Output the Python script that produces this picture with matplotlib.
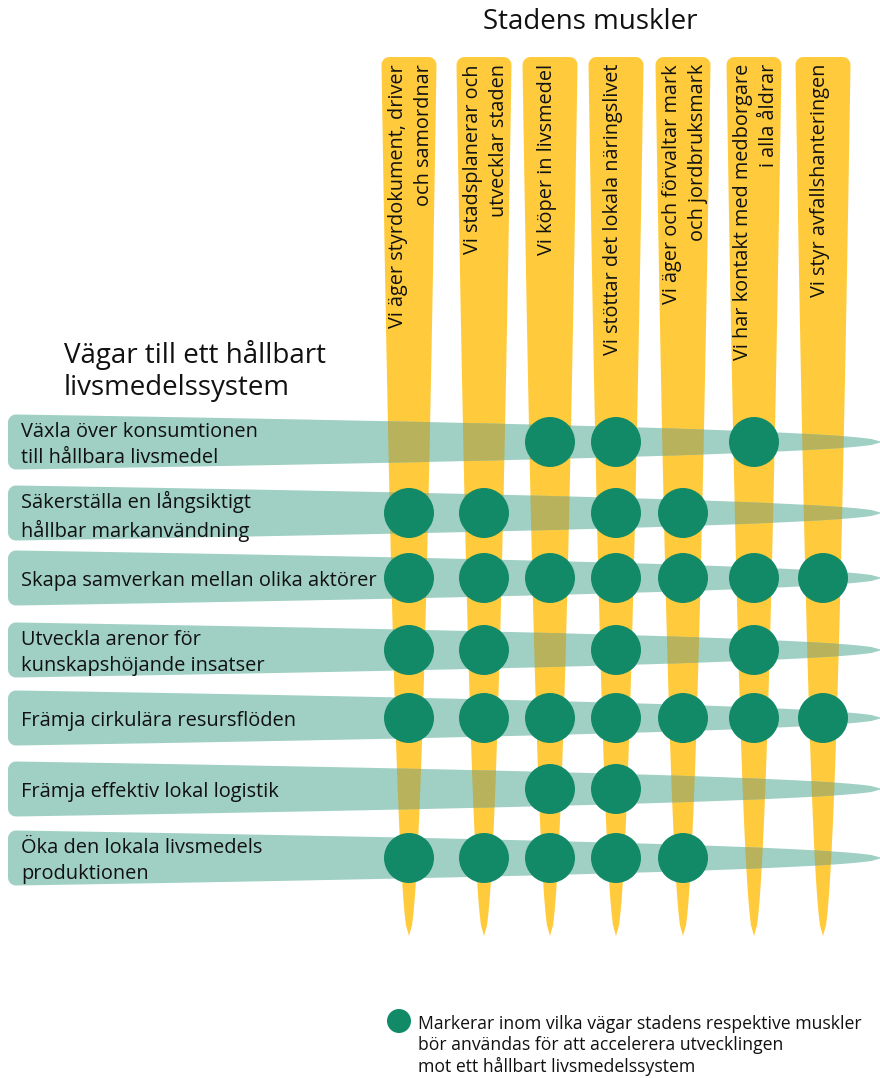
import numpy as np
import matplotlib
matplotlib.use("Agg")
import matplotlib.pyplot as plt
from matplotlib.patches import Polygon, Circle

plt.rcParams['font.family'] = ['Open Sans', 'DejaVu Sans']

# ---------------- data ----------------
title_cols = "Stadens muskler"
title_rows = "Vägar till ett hållbart\nlivsmedelssystem"
muscles = [
    "Vi äger styrdokument, driver\noch samordnar",
    "Vi stadsplanerar och\nutvecklar staden",
    "Vi köper in livsmedel",
    "Vi stöttar det lokala näringslivet",
    "Vi äger och förvaltar mark\noch jordbruksmark",
    "Vi har kontakt med medborgare\ni alla åldrar",
    "Vi styr avfallshanteringen",
]
pathways = [
    "Växla över konsumtionen\ntill hållbara livsmedel",
    "Säkerställa en långsiktigt\nhållbar markanvändning",
    "Skapa samverkan mellan olika aktörer",
    "Utveckla arenor för\nkunskapshöjande insatser",
    "Främja cirkulära resursflöden",
    "Främja effektiv lokal logistik",
    "Öka den lokala livsmedels\nproduktionen",
]
# marks[row][col] : 1 = muscle should be used for this pathway
marks = [
    [0, 0, 1, 1, 0, 1, 0],
    [1, 1, 0, 1, 1, 0, 0],
    [1, 1, 1, 1, 1, 1, 1],
    [1, 1, 0, 1, 0, 1, 0],
    [1, 1, 1, 1, 1, 1, 1],
    [0, 0, 1, 1, 0, 0, 0],
    [1, 1, 1, 1, 1, 0, 0],
]
legend_text = ("Markerar inom vilka vägar stadens respektive muskler\n"
               "bör användas för att accelerera utvecklingen\n"
               "mot ett hållbart livsmedelssystem")

# ---------------- layout / style ----------------
W, H = 880, 1078
col_x = [409, 484, 550, 616, 683, 754, 823]
row_y = [442, 513, 578, 650, 718, 789, 858]
col_top, col_tip, col_w = 57, 936, 55
row_left, row_tip, row_h = 8, 882, 55
YELLOW = '#FFCB3D'
TEAL = '#9FD0C3'
OLIVE = '#B8B25C'
GREEN = '#128A68'
dot_r = 25

fig = plt.figure(figsize=(W / 100, H / 100), dpi=100)
ax = fig.add_axes([0, 0, 1, 1])
ax.set_xlim(0, W)
ax.set_ylim(H, 0)
ax.axis('off')


def taper(n=80, p=0.5):
    t = np.linspace(0, 1, n)
    return t, (1 - t) ** p


def corner(cx, cy, r, a0, a1, n=8):
    a = np.linspace(np.radians(a0), np.radians(a1), n)
    return np.column_stack([cx + r * np.cos(a), cy + r * np.sin(a)])


def col_shape(x):
    hw = col_w / 2
    r = 8
    t, f = taper()
    ys = col_top + r + t * (col_tip - col_top - r)
    right = np.column_stack([x + hw * f, ys])
    left = np.column_stack([x - hw * f, ys])[::-1]
    tl = corner(x - hw + r, col_top + r, r, 180, 270)
    tr = corner(x + hw - r, col_top + r, r, 270, 360)
    return np.vstack([tl, tr, right, left])


def row_shape(y):
    hh = row_h / 2
    r = 8
    t, f = taper()
    xs = row_left + r + t * (row_tip - row_left - r)
    top = np.column_stack([xs, y - hh * f])
    bot = np.column_stack([xs, y + hh * f])[::-1]
    bl = corner(row_left + r, y + hh - r, r, 90, 180)
    tl = corner(row_left + r, y - hh + r, r, 180, 270)
    return np.vstack([tl, top, bot, bl])


for x in col_x:
    ax.add_patch(Polygon(col_shape(x), closed=True, fc=YELLOW, ec='none', zorder=1))

for y in row_y:
    rp = Polygon(row_shape(y), closed=True, fc=TEAL, ec='none', zorder=2)
    ax.add_patch(rp)
    for x in col_x:
        op = Polygon(col_shape(x), closed=True, fc=OLIVE, ec='none', zorder=3)
        ax.add_patch(op)
        op.set_clip_path(rp)

for i, y in enumerate(row_y):
    for j, x in enumerate(col_x):
        if marks[i][j]:
            ax.add_patch(Circle((x, y), dot_r, fc=GREEN, ec='none', zorder=4))

# column labels (rotated)
for j, (x, lab) in enumerate(zip(col_x, muscles)):
    nl = lab.count('\n') + 1
    xx = x - 3 if nl == 1 else x + 2
    ax.text(xx, 64, lab, rotation=90, ha='center', va='top', fontsize=14.3,
            multialignment='right', linespacing=1.4, color='#111111', zorder=5)

# row labels
for y, lab in zip(row_y, pathways):
    ax.text(21, y + 3, lab, ha='left', va='center', fontsize=14.4,
            linespacing=1.4, color='#111111', zorder=5)

ax.text(590, 22, title_cols, ha='center', va='center', fontsize=20, color='#111111')
ax.text(64, 371, title_rows, ha='left', va='center', fontsize=20,
        linespacing=1.2, color='#111111')

# legend
ax.add_patch(Circle((399, 1021), 12, fc=GREEN, ec='none'))
ax.text(418, 1015, legend_text, ha='left', va='top', fontsize=12.7,
        linespacing=1.22, color='#111111')

fig.savefig('out.png', dpi=100)
